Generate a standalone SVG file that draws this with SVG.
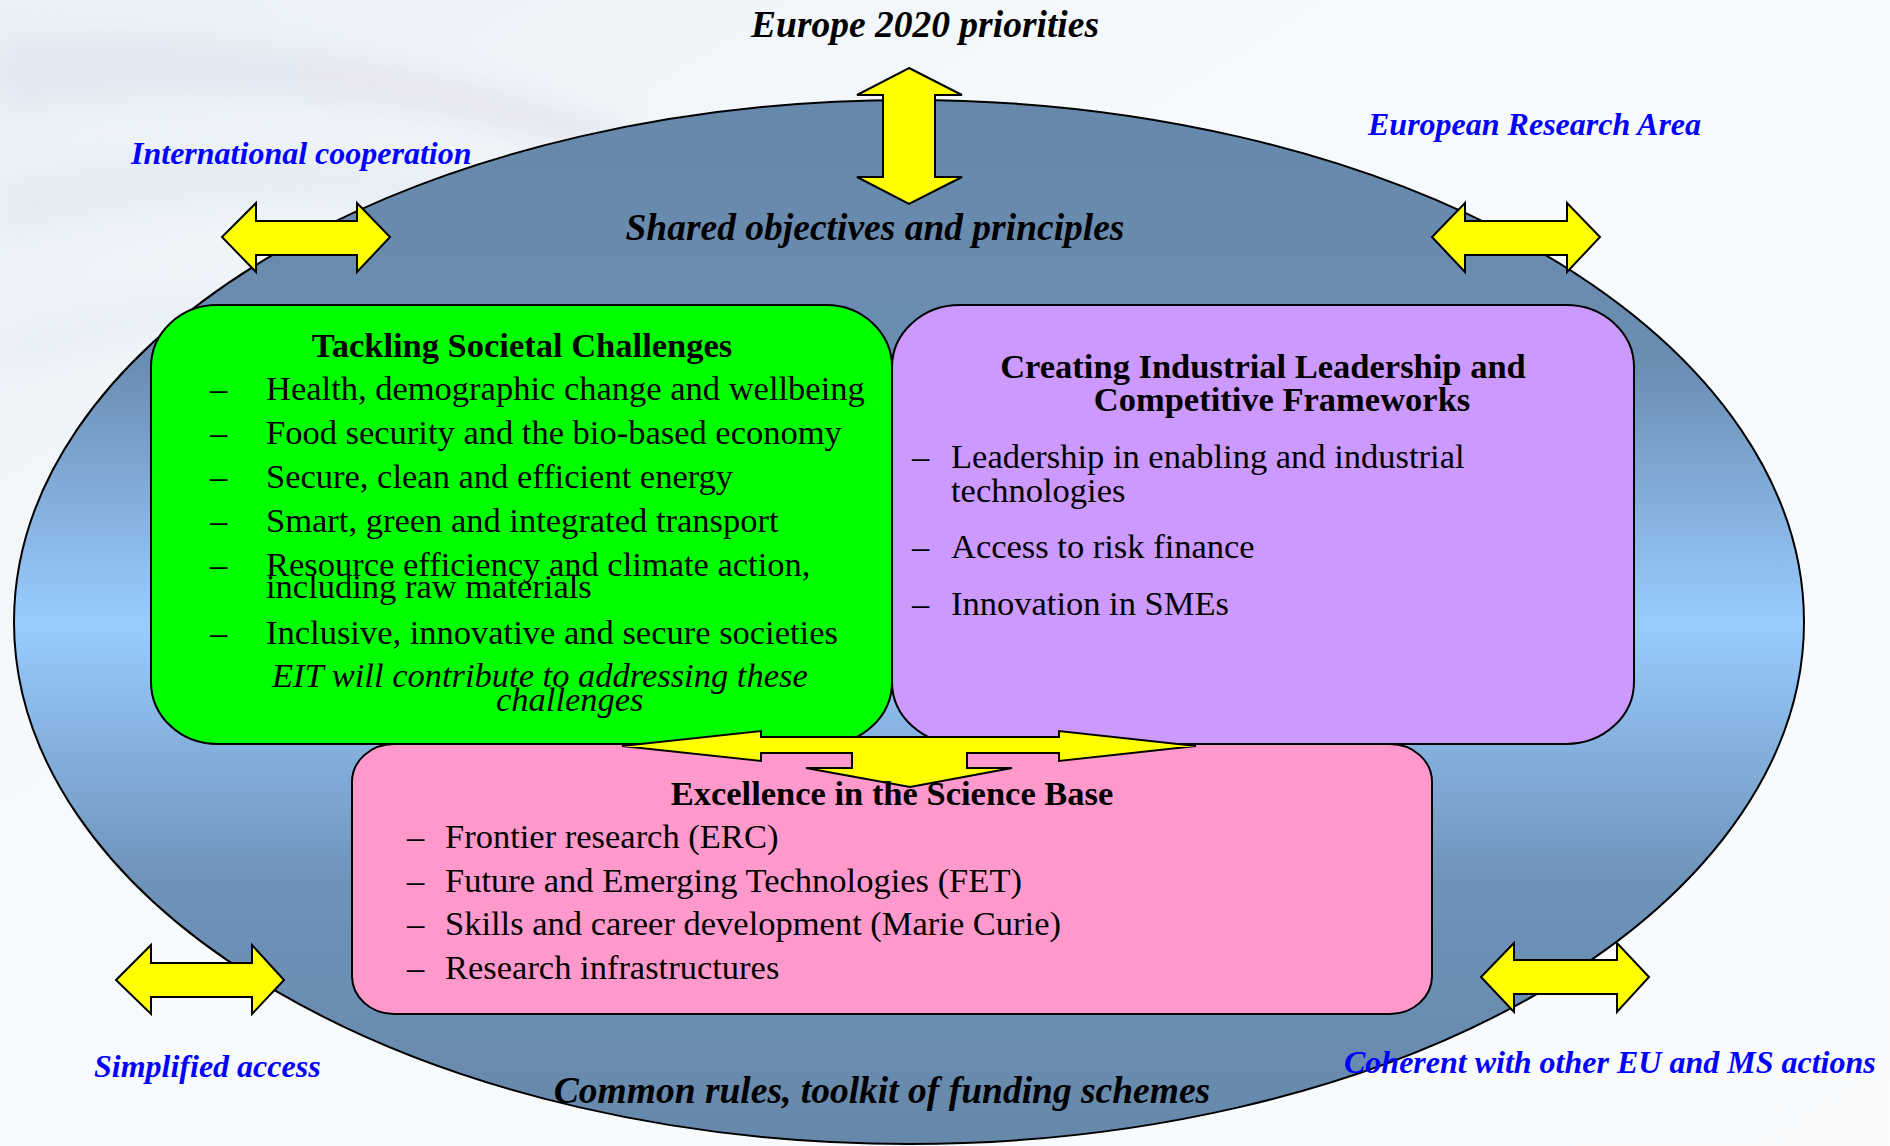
<svg xmlns="http://www.w3.org/2000/svg" width="1890" height="1146" viewBox="0 0 1890 1146">
<defs>
<linearGradient id="ellG" x1="0" y1="0" x2="0" y2="1">
<stop offset="0" stop-color="#6688AA"/>
<stop offset="0.25" stop-color="#6A8DB2"/>
<stop offset="0.5" stop-color="#99CCFF"/>
<stop offset="0.75" stop-color="#6E93B9"/>
<stop offset="1" stop-color="#6688AA"/>
</linearGradient>
<linearGradient id="bgG" x1="0" y1="0" x2="1" y2="1">
<stop offset="0" stop-color="#E9F0F7"/>
<stop offset="0.35" stop-color="#F7FAFC"/>
<stop offset="1" stop-color="#F9FBFD"/>
</linearGradient>
<filter id="blur" x="-20%" y="-20%" width="140%" height="140%"><feGaussianBlur stdDeviation="14"/></filter>
<style>
.arrow{fill:#FFFF00;stroke:#000;stroke-width:2;stroke-linejoin:miter}
.box{stroke:#000;stroke-width:2}
.ext{font-family:"Liberation Serif",serif;font-weight:bold;font-style:italic;font-size:32px;fill:#0000FF}
.head{font-family:"Liberation Serif",serif;font-weight:bold;font-style:italic;font-size:37.5px;fill:#000}
.title{font-family:"Liberation Serif",serif;font-weight:bold;font-size:34.5px;fill:#000}
.item{font-family:"Liberation Serif",serif;font-size:34.5px;fill:#000}
.ital{font-family:"Liberation Serif",serif;font-style:italic;font-size:34.5px;fill:#000}
</style>
</defs>
<rect x="0" y="0" width="1890" height="1146" fill="url(#bgG)"/>
<g filter="url(#blur)" opacity="0.5">
<path d="M0,40 C200,20 450,60 640,130 L600,160 C420,100 200,80 0,110 Z" fill="#D6E0EC"/>
<path d="M0,180 C180,140 380,150 560,200 L520,230 C360,190 180,190 0,240 Z" fill="#DCE5EF"/>
<path d="M300,60 C420,70 520,100 610,140 L590,150 C500,115 400,95 300,85 Z" fill="#E6D8E6"/>
<path d="M0,330 C120,290 250,280 380,300 L360,330 C240,320 120,340 0,380 Z" fill="#E3EAF2"/>
</g>

<g id="ellipse">
<ellipse cx="909" cy="622" rx="895" ry="522" fill="url(#ellG)" stroke="#000" stroke-width="2"/>
</g>

<g id="labels-outside">
<text class="head" x="925" y="37" text-anchor="middle">Europe 2020 priorities</text>
<text class="ext" x="131" y="164">International cooperation</text>
<text class="ext" x="1368" y="135">European Research Area</text>
<text class="ext" x="94" y="1077">Simplified access</text>
<text class="ext" x="1344" y="1073">Coherent with other EU and MS actions</text>
</g>

<g id="label-shared">
<text class="head" x="875" y="240" text-anchor="middle">Shared objectives and principles</text>
</g>

<g id="box-societal">
<rect class="box" x="151" y="305" width="741" height="439" rx="66" ry="62" fill="#00FF00"/>
<text class="title" x="522" y="357" text-anchor="middle">Tackling Societal Challenges</text>
<g class="item">
<text x="210" y="400">–</text><text x="266" y="400">Health, demographic change and wellbeing</text>
<text x="210" y="444">–</text><text x="266" y="444">Food security and the bio-based economy</text>
<text x="210" y="488">–</text><text x="266" y="488">Secure, clean and efficient energy</text>
<text x="210" y="532">–</text><text x="266" y="532">Smart, green and integrated transport</text>
<text x="210" y="576">–</text><text x="266" y="576">Resource efficiency and climate action,</text>
<text x="266" y="598">including raw materials</text>
<text x="210" y="644">–</text><text x="266" y="644">Inclusive, innovative and secure societies</text>
</g>
<text class="ital" x="272" y="687">EIT will contribute to addressing these</text>
<text class="ital" x="496" y="711">challenges</text>
</g>

<g id="box-industrial">
<rect class="box" x="892" y="305" width="742" height="439" rx="68" ry="62" fill="#CC99FF"/>
<text class="title" x="1263" y="378" text-anchor="middle">Creating Industrial Leadership and</text>
<text class="title" x="1282" y="411" text-anchor="middle">Competitive Frameworks</text>
<g class="item">
<text x="912" y="468">–</text><text x="951" y="468">Leadership in enabling and industrial</text>
<text x="951" y="502">technologies</text>
<text x="912" y="558">–</text><text x="951" y="558">Access to risk finance</text>
<text x="912" y="615">–</text><text x="951" y="615">Innovation in SMEs</text>
</g>
</g>

<g id="box-science">
<rect class="box" x="352" y="744" width="1080" height="270" rx="42" ry="38" fill="#FF99CC"/>
<g class="item">
<text x="407" y="848">–</text><text x="445" y="848">Frontier research (ERC)</text>
<text x="407" y="892">–</text><text x="445" y="892">Future and Emerging Technologies (FET)</text>
<text x="407" y="935">–</text><text x="445" y="935">Skills and career development (Marie Curie)</text>
<text x="407" y="979">–</text><text x="445" y="979">Research infrastructures</text>
</g>
</g>

<g id="connectors">
<polygon class="arrow" points="909,68 962,95 935,95 935,177 962,177 909,204 857,177 883,177 883,95 857,95"/>
<polygon class="arrow" points="222,237 256,203 256,221 357,221 357,203 390,237 357,272 357,255 256,255 256,272"/>
<polygon class="arrow" points="1432,237 1465,203 1465,221 1567,221 1567,203 1600,237 1567,272 1567,255 1465,255 1465,272"/>
<polygon class="arrow" points="116,980 151,945 151,963 252,963 252,945 284,980 252,1014 252,997 151,997 151,1014"/>
<polygon class="arrow" points="1481,977 1514,943 1514,960 1617,960 1617,943 1649,977 1617,1012 1617,994 1514,994 1514,1012"/>
<polygon class="arrow" points="622,746 761,731 761,737 1059,737 1059,731 1196,746 1059,761 1059,753 967,753 967,768 1012,768 910,787 806,768 852,768 852,753 761,753 761,761"/>
</g>

<g id="label-science-title">
<text class="title" x="892" y="805" text-anchor="middle">Excellence in the Science Base</text>
</g>
<g id="label-common">
<text class="head" x="882" y="1103" text-anchor="middle">Common rules, toolkit of funding schemes</text>
</g>
</svg>
